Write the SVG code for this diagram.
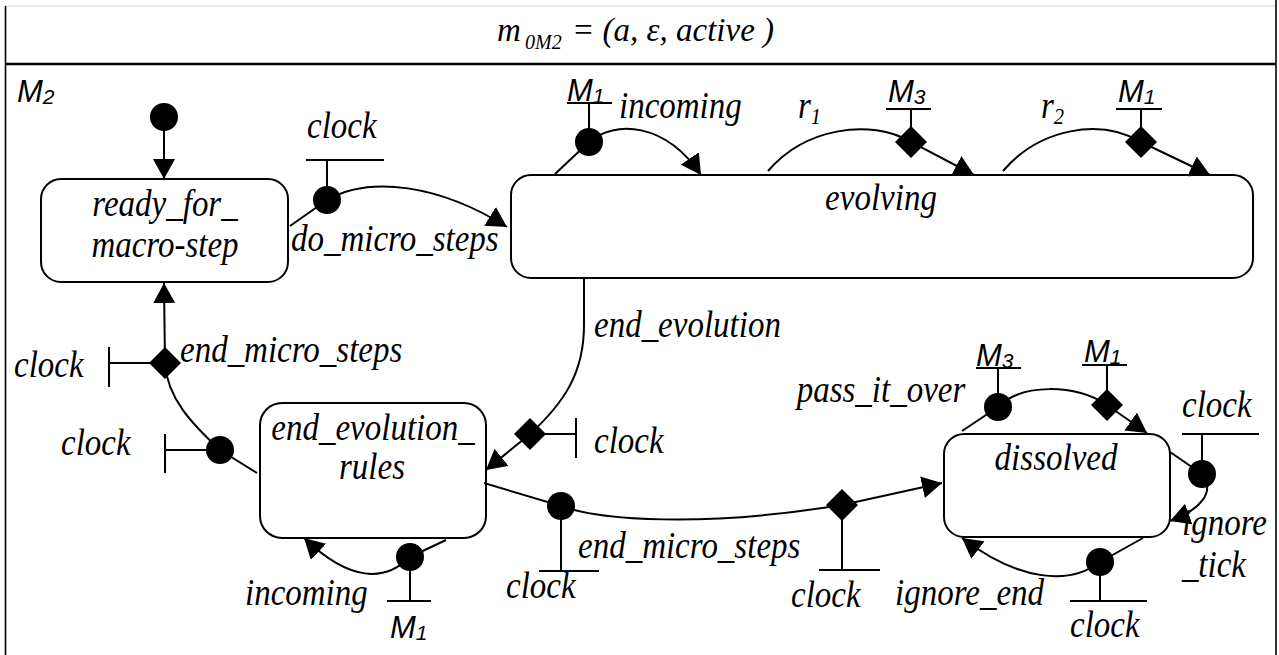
<svg xmlns="http://www.w3.org/2000/svg" width="1279" height="655" viewBox="0 0 1279 655">
<style>
.ln{fill:none;stroke:#000;stroke-width:2}
.arr{marker-end:url(#ah)}
.box{fill:#fff;stroke:#000;stroke-width:2}
.frame{fill:none;stroke:#000;stroke-width:1.6}
.ttl{font-family:"Liberation Serif","Times New Roman",serif;font-style:italic;font-size:33px;fill:#000}
.lbl{font-family:"Liberation Serif","Times New Roman",serif;font-style:italic;font-size:37px;fill:#000;transform-box:fill-box;transform-origin:0 100%;transform:scale(0.892,1)}
.ml{font-family:"Liberation Sans",Arial,sans-serif;font-style:italic;font-size:31px;fill:#000}
.sub{font-size:21px}
.port{fill:#000}
.mid{text-anchor:middle;transform-origin:50% 100%}
</style>
<defs>
<marker id="ah" markerUnits="userSpaceOnUse" markerWidth="21" markerHeight="22" refX="20" refY="11" orient="auto">
<path d="M0,0 L20,11 L0,22 z" fill="#000"/>
</marker>
<path id="dia" d="M0,-16 L16,0 L0,16 L-16,0 z" fill="#000"/>
</defs>
<rect width="1279" height="655" fill="#fff"/>
<g id="frame">
<line x1="5" y1="6" x2="1276" y2="6" stroke="#e4e4e4" stroke-width="1.5"/>
<line class="frame" x1="5.5" y1="6" x2="5.5" y2="655"/>
<line class="frame" x1="1276" y1="0" x2="1276" y2="655"/>
<line x1="5" y1="64" x2="1276" y2="64" stroke="#000" stroke-width="2.6"/>
<text class="ttl"><tspan x="497" y="41">m</tspan><tspan x="525" y="49" font-size="20">0M2</tspan><tspan x="572" y="41">= (a, ε, active )</tspan></text>
<text class="ml" x="17" y="102">M<tspan class="sub" dy="2">2</tspan></text>
</g>
<g id="node-initial">
<circle class="port" cx="164" cy="117" r="14"/>
</g>
<g id="node-ready">
<rect class="box" x="41" y="179" width="247" height="103" rx="20"/>
<text class="lbl mid" x="165" y="216">ready_for_</text>
<text class="lbl mid" x="165" y="257">macro-step</text>
</g>
<g id="node-evolving">
<rect class="box" x="511" y="175" width="742" height="103" rx="20"/>
<text class="lbl mid" x="881" y="210">evolving</text>
</g>
<g id="node-end-evolution-rules">
<rect class="box" x="260" y="403" width="226" height="135" rx="22"/>
<text class="lbl mid" x="373" y="440">end_evolution_</text>
<text class="lbl mid" x="372" y="479">rules</text>
</g>
<g id="node-dissolved">
<rect class="box" x="944" y="434" width="226" height="103" rx="20"/>
<text class="lbl mid" x="1056" y="470">dissolved</text>
</g>
<g id="connectors">
<path class="ln arr" d="M164,131 L164,179"/>
<g id="t-do-micro-steps">
<path class="ln" d="M290,226 L327,200"/>
<path class="ln arr" d="M327,200 C370,175 440,185 507,227"/>
<path class="ln" d="M327,200 L327,160 M306,160 L384,160"/>
<circle class="port" cx="327" cy="200" r="14"/>
<text class="lbl" x="307" y="138">clock</text>
<text class="lbl" x="291" y="251">do_micro_steps</text>
</g>
<g id="t-incoming-top">
<path class="ln" d="M555,174 L589,142"/>
<path class="ln arr" d="M589,142 C615,120 665,122 701,175"/>
<path class="ln" d="M589,142 L589,103 M567,103 L612,103"/>
<circle class="port" cx="589" cy="142" r="14"/>
<text class="ml" x="567" y="101">M<tspan class="sub" dy="2">1</tspan></text>
<text class="lbl" x="619" y="118">incoming</text>
</g>
<g id="t-r1">
<path class="ln arr" d="M768,171 C805,128 870,118 911,142 L974,175"/>
<path class="ln" d="M911,142 L911,109 M886,109 L931,109"/>
<use href="#dia" x="911" y="142"/>
<text class="ml" x="888" y="102">M<tspan class="sub" dy="2">3</tspan></text>
<text class="lbl" x="798" y="118">r<tspan font-size="23" dy="6">1</tspan></text>
</g>
<g id="t-r2">
<path class="ln arr" d="M1003,171 C1040,128 1100,118 1141,142 L1210,175"/>
<path class="ln" d="M1141,142 L1141,109 M1116,109 L1162,109"/>
<use href="#dia" x="1141" y="142"/>
<text class="ml" x="1118" y="102">M<tspan class="sub" dy="2">1</tspan></text>
<text class="lbl" x="1041" y="118">r<tspan font-size="23" dy="6">2</tspan></text>
</g>
<g id="t-end-evolution">
<path class="ln arr" d="M584,278 L584,325 C584,372 565,402 530,434 L486,470"/>
<path class="ln" d="M530,434 L576,434 M576,418 L576,458"/>
<use href="#dia" x="530" y="434"/>
<text class="lbl" x="594" y="337">end_evolution</text>
<text class="lbl" x="594" y="453">clock</text>
</g>
<g id="t-end-micro-steps-up">
<path class="ln" d="M257,473 L220,450 C192,424 167,398 165,363"/>
<path class="ln arr" d="M165,363 L164,283"/>
<path class="ln" d="M165,363 L109,363 M109,347 L109,387"/>
<path class="ln" d="M220,450 L165,450 M165,434 L165,473"/>
<use href="#dia" x="165" y="363"/>
<circle class="port" cx="220" cy="450" r="14"/>
<text class="lbl" x="180" y="362">end_micro_steps</text>
<text class="lbl" x="14" y="377">clock</text>
<text class="lbl" x="61" y="455">clock</text>
</g>
<g id="t-incoming-bottom">
<path class="ln" d="M446,540 L410,557"/>
<path class="ln arr" d="M410,557 C385,582 350,582 304,538"/>
<path class="ln" d="M410,557 L410,601 M387,601 L431,601"/>
<circle class="port" cx="410" cy="557" r="14"/>
<text class="lbl" x="245" y="605">incoming</text>
<text class="ml" x="390" y="638">M<tspan class="sub" dy="2">1</tspan></text>
</g>
<g id="t-end-micro-steps-right">
<path class="ln arr" d="M484,483 L561,506 C600,520 700,528 842,505 L942,483"/>
<path class="ln" d="M561,506 L561,571 M539,571 L599,571"/>
<path class="ln" d="M842,505 L842,570 M819,570 L880,570"/>
<circle class="port" cx="561" cy="506" r="14"/>
<use href="#dia" x="842" y="505"/>
<text class="lbl" x="506" y="598">clock</text>
<text class="lbl" x="578" y="558">end_micro_steps</text>
<text class="lbl" x="791" y="607">clock</text>
</g>
<g id="t-pass-it-over">
<path class="ln" d="M962,431 L998,407"/>
<path class="ln arr" d="M998,407 C1022,383 1075,384 1107,405 L1147,433"/>
<path class="ln" d="M998,407 L998,368 M976,368 L1021,368"/>
<path class="ln" d="M1107,405 L1107,365 M1082,365 L1127,365"/>
<circle class="port" cx="998" cy="407" r="14"/>
<use href="#dia" x="1107" y="405"/>
<text class="ml" x="976" y="366">M<tspan class="sub" dy="2">3</tspan></text>
<text class="ml" x="1084" y="362">M<tspan class="sub" dy="2">1</tspan></text>
<text class="lbl" x="797" y="402">pass_it_over</text>
</g>
<g id="t-ignore-tick">
<path class="ln" d="M1170,452 L1202,474"/>
<path class="ln arr" d="M1202,474 C1216,492 1200,510 1170,521"/>
<path class="ln" d="M1202,474 L1202,434 M1182,434 L1259,434"/>
<circle class="port" cx="1202" cy="474" r="14"/>
<text class="lbl" x="1182" y="417">clock</text>
<text class="lbl" x="1182" y="535">ignore</text>
<text class="lbl" x="1182" y="577">_tick</text>
</g>
<g id="t-ignore-end">
<path class="ln" d="M1143,538 L1100,562"/>
<path class="ln arr" d="M1100,562 C1070,585 1020,582 962,538"/>
<path class="ln" d="M1100,562 L1100,601 M1070,601 L1147,601"/>
<circle class="port" cx="1100" cy="562" r="14"/>
<text class="lbl" x="895" y="605">ignore_end</text>
<text class="lbl" x="1070" y="637">clock</text>
</g>
</g>
</svg>
